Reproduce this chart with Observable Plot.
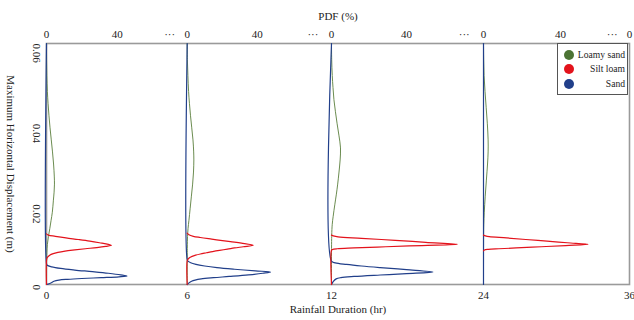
<!DOCTYPE html>
<html>
<head>
<meta charset="utf-8">
<script src="https://cdn.jsdelivr.net/npm/d3@7"></script>
<script src="https://cdn.jsdelivr.net/npm/@observablehq/plot@0.6"></script>
<style>
  html, body { margin: 0; padding: 0; background: #fff; }
  #wrap { position: relative; width: 634px; height: 320px; font-family: "Liberation Serif", "DejaVu Serif", serif; }
  #legend { position: absolute; left: 557px; top: 43px; width: 71px; height: 52px; border: 1px solid #555; background: #fff; box-sizing: border-box; }
  .li { position: absolute; left: 0; width: 69px; height: 14px; font-family: "Liberation Serif", "DejaVu Serif", serif; font-size: 9.6px; color: #222; }
  .li .dot { position: absolute; left: 6px; top: 2px; width: 10px; height: 10px; border-radius: 50%; }
  .li .lab { position: absolute; right: 2px; top: 0; line-height: 14px; }
</style>
</head>
<body>
<div id="wrap"></div>
<script>
// ---- data ----
const durations = [0, 6, 12, 24];
const xTickLabels = ["0", "6", "12", "24", "36"];
const pdfTicks = [0, 40, 70];
const pdfTickLabels = ["0", "40", "\u00b7\u00b7\u00b7"];
const yTicks = [0, 0.02, 0.04, 0.06];
const seriesNames = ["Loamy sand", "Silt loam", "Sand"];

// [displacement (m), PDF (%)]
const loamySand_0h = [[0.060,0],[0.056,0.05],[0.052,0.2],[0.048,0.5],[0.045,0.9],[0.042,1.4],[0.039,2.0],[0.036,2.7],[0.033,3.4],[0.030,4.0],[0.027,4.4],[0.025,4.5],[0.023,4.3],[0.021,3.9],[0.018,3.3],[0.016,2.6],[0.014,1.9],[0.012,1.1],[0.010,0.5],[0.008,0.2],[0.005,0.05],[0,0]];
const loamySand_6h = [[0.060,0],[0.056,0.1],[0.052,0.4],[0.048,0.8],[0.045,1.3],[0.042,1.9],[0.039,2.6],[0.036,3.3],[0.033,3.7],[0.031,3.8],[0.028,3.6],[0.025,3.1],[0.022,2.4],[0.019,1.7],[0.016,1.0],[0.014,0.5],[0.012,0.2],[0.009,0.05],[0,0]];
const loamySand_12h = [[0.060,0],[0.056,0.1],[0.052,0.4],[0.049,0.8],[0.046,1.3],[0.043,2.1],[0.040,3.0],[0.037,4.0],[0.034,4.8],[0.031,4.6],[0.028,4.0],[0.025,3.3],[0.0225,2.6],[0.020,1.8],[0.017,0.9],[0.015,0.4],[0.012,0.1],[0,0]];
const loamySand_24h = [[0.060,0],[0.056,0.1],[0.052,0.3],[0.048,0.8],[0.044,1.4],[0.040,2.0],[0.036,2.4],[0.033,2.4],[0.030,2.1],[0.026,1.5],[0.022,0.9],[0.018,0.4],[0.015,0.15],[0.012,0.05],[0,0]];

const siltLoam_0h = [[0.0126,0],[0.0123,1],[0.0120,5],[0.0116,11],[0.0112,18],[0.0108,24.5],[0.0104,30],[0.0100,35],[0.00976,36.7],[0.0095,33.5],[0.0092,28.5],[0.0089,22],[0.0086,16],[0.0083,10.5],[0.0080,6.5],[0.0077,3.8],[0.0073,1.8],[0.0068,0.6],[0.0063,0.1],[0,0]];
const siltLoam_6h = [[0.0128,0],[0.0124,1],[0.0120,3.5],[0.0117,7.5],[0.0113,14],[0.0110,19],[0.01066,24.7],[0.0103,31],[0.00976,37.7],[0.0094,32],[0.0091,27],[0.0088,23],[0.0085,18.5],[0.0082,14.5],[0.0079,11],[0.0076,7.5],[0.0073,4.8],[0.0070,2.8],[0.0067,1.5],[0.0063,0.5],[0.0059,0],[0,0]];
const siltLoam_12h = [[0.0123,0],[0.0121,1],[0.01185,3.5],[0.0115,16],[0.0110,34],[0.0105,50],[0.0100,66.6],[0.0097,48],[0.0094,29],[0.0091,12],[0.0089,3],[0.0087,0.5],[0.0085,0],[0,0]];
const siltLoam_24h = [[0.0123,0],[0.0121,1],[0.0119,3],[0.0116,12],[0.0112,22],[0.0108,33],[0.0104,44],[0.0100,56],[0.0097,43],[0.0094,30],[0.0091,17],[0.0089,8],[0.00875,2.5],[0.0086,0.5],[0.0084,0]];

const sand_0h = [[0.060,0],[0.0052,0],[0.0048,0.4],[0.0044,3],[0.0040,8],[0.0036,16],[0.0032,26],[0.0028,35],[0.0024,42],[0.0021,45.6],[0.0019,41],[0.0017,31],[0.0015,20],[0.0013,12],[0.0011,7],[0.0008,4.2],[0.0005,3],[0.0002,1.5],[0,0]];
const sand_6h = [[0.060,0],[0.0062,0],[0.0058,0.5],[0.0054,2],[0.0050,5],[0.0046,10],[0.0042,17],[0.0038,27],[0.0034,39],[0.0031,47.2],[0.0028,43],[0.0024,35],[0.0020,24],[0.0017,15],[0.0014,8],[0.0011,4.5],[0.0008,2.5],[0.0004,1],[0,0]];
const sand_12h = [[0.060,0],[0.0058,0],[0.0054,2],[0.0050,8],[0.0046,16],[0.0042,26],[0.0037,40],[0.0031,53.7],[0.0027,40],[0.00237,26],[0.0020,12],[0.0017,5],[0.0014,2.5],[0.0008,1],[0,0]];
const sand_24h = [[0.060,0],[0,0]];

// ---- build table ----
const seriesPanels = {
  "Loamy sand": [loamySand_0h, loamySand_6h, loamySand_12h, loamySand_24h],
  "Silt loam": [siltLoam_0h, siltLoam_6h, siltLoam_12h, siltLoam_24h],
  "Sand": [sand_0h, sand_6h, sand_12h, sand_24h]
};
const PANEL_PDF = 80; // % of PDF spanning one duration panel
const rows = [];
for (const s of seriesNames) {
  seriesPanels[s].forEach((pts, p) => {
    for (const [d, pdf] of pts) rows.push({series: s, panel: p, duration: durations[p], key: s + "-" + p, d, pdf, xv: p + pdf / PANEL_PDF});
  });
}
const topTicks = [], topLabels = [];
durations.forEach((dur, p) => pdfTicks.forEach((t, j) => { topTicks.push(p + t / PANEL_PDF); topLabels.push(pdfTickLabels[j]); }));
topTicks.push(durations.length); topLabels.push(pdfTickLabels[0]);

const colors = {"Loamy sand": "#4c7334", "Silt loam": "#e3131c", "Sand": "#213f8a"};
const lineColors = {"Loamy sand": "#6b8c50", "Silt loam": "#e3131c", "Sand": "#213f8a"};
const lineFor = (s) => Plot.line(rows.filter(r => r.series === s), {x: "xv", y: "d", z: "key", stroke: lineColors[s], strokeWidth: s === "Loamy sand" ? 1 : 1.2, curve: "catmull-rom"});

const chart = Plot.plot({
  width: 634,
  height: 320,
  marginTop: 43,
  marginBottom: 36,
  marginLeft: 46,
  marginRight: 5,
  style: {fontFamily: "'Liberation Serif', 'DejaVu Serif', serif", fontSize: "11px", color: "#222", background: "#fff"},
  x: {type: "linear", domain: [0, 0.5, 1, 1.5, 2, 2.5, 3, 3.5, 4], range: [46, 116.7, 186.7, 256.7, 331, 406, 483, 560, 629]},
  y: {type: "linear", domain: [0, 0.06]},
  marks: [
    Plot.frame({stroke: "#9a9a9a", strokeWidth: 1.6}),
    lineFor("Loamy sand"),
    lineFor("Sand"),
    lineFor("Silt loam"),
    Plot.axisX({anchor: "bottom", ticks: d3.range(xTickLabels.length), tickFormat: (d, i) => xTickLabels[i], tickSize: 0, tickPadding: 7, label: null}),
    Plot.axisX({anchor: "top", ticks: topTicks, tickFormat: (d, i) => topLabels[i], tickSize: 0, tickPadding: 6, label: null}),
    Plot.axisY({anchor: "left", ticks: yTicks, tickFormat: d => d === 0 ? "0" : d.toFixed(2), tickSize: 0, tickPadding: 10, rotate: 90, textAnchor: "start", label: null}),
    Plot.text(["PDF (%)"], {frameAnchor: "top", dy: -27, lineAnchor: "middle"}),
    Plot.text(["Rainfall Duration (hr)"], {frameAnchor: "bottom", dy: 25, lineAnchor: "middle"}),
    Plot.text(["Maximum Horizontal Displacement (m)"], {frameAnchor: "left", dx: -36, rotate: 90, textAnchor: "middle", lineAnchor: "middle"})
  ]
});
const wrap = document.getElementById("wrap");
wrap.appendChild(chart);

// legend
const legend = document.createElement("div");
legend.id = "legend";
seriesNames.forEach((s, i) => {
  const li = document.createElement("div");
  li.className = "li";
  li.style.top = (4 + i * 14.3) + "px";
  li.innerHTML = `<span class="dot" style="background:${colors[s]}"></span><span class="lab">${s}</span>`;
  legend.appendChild(li);
});
wrap.appendChild(legend);
</script>
</body>
</html>
